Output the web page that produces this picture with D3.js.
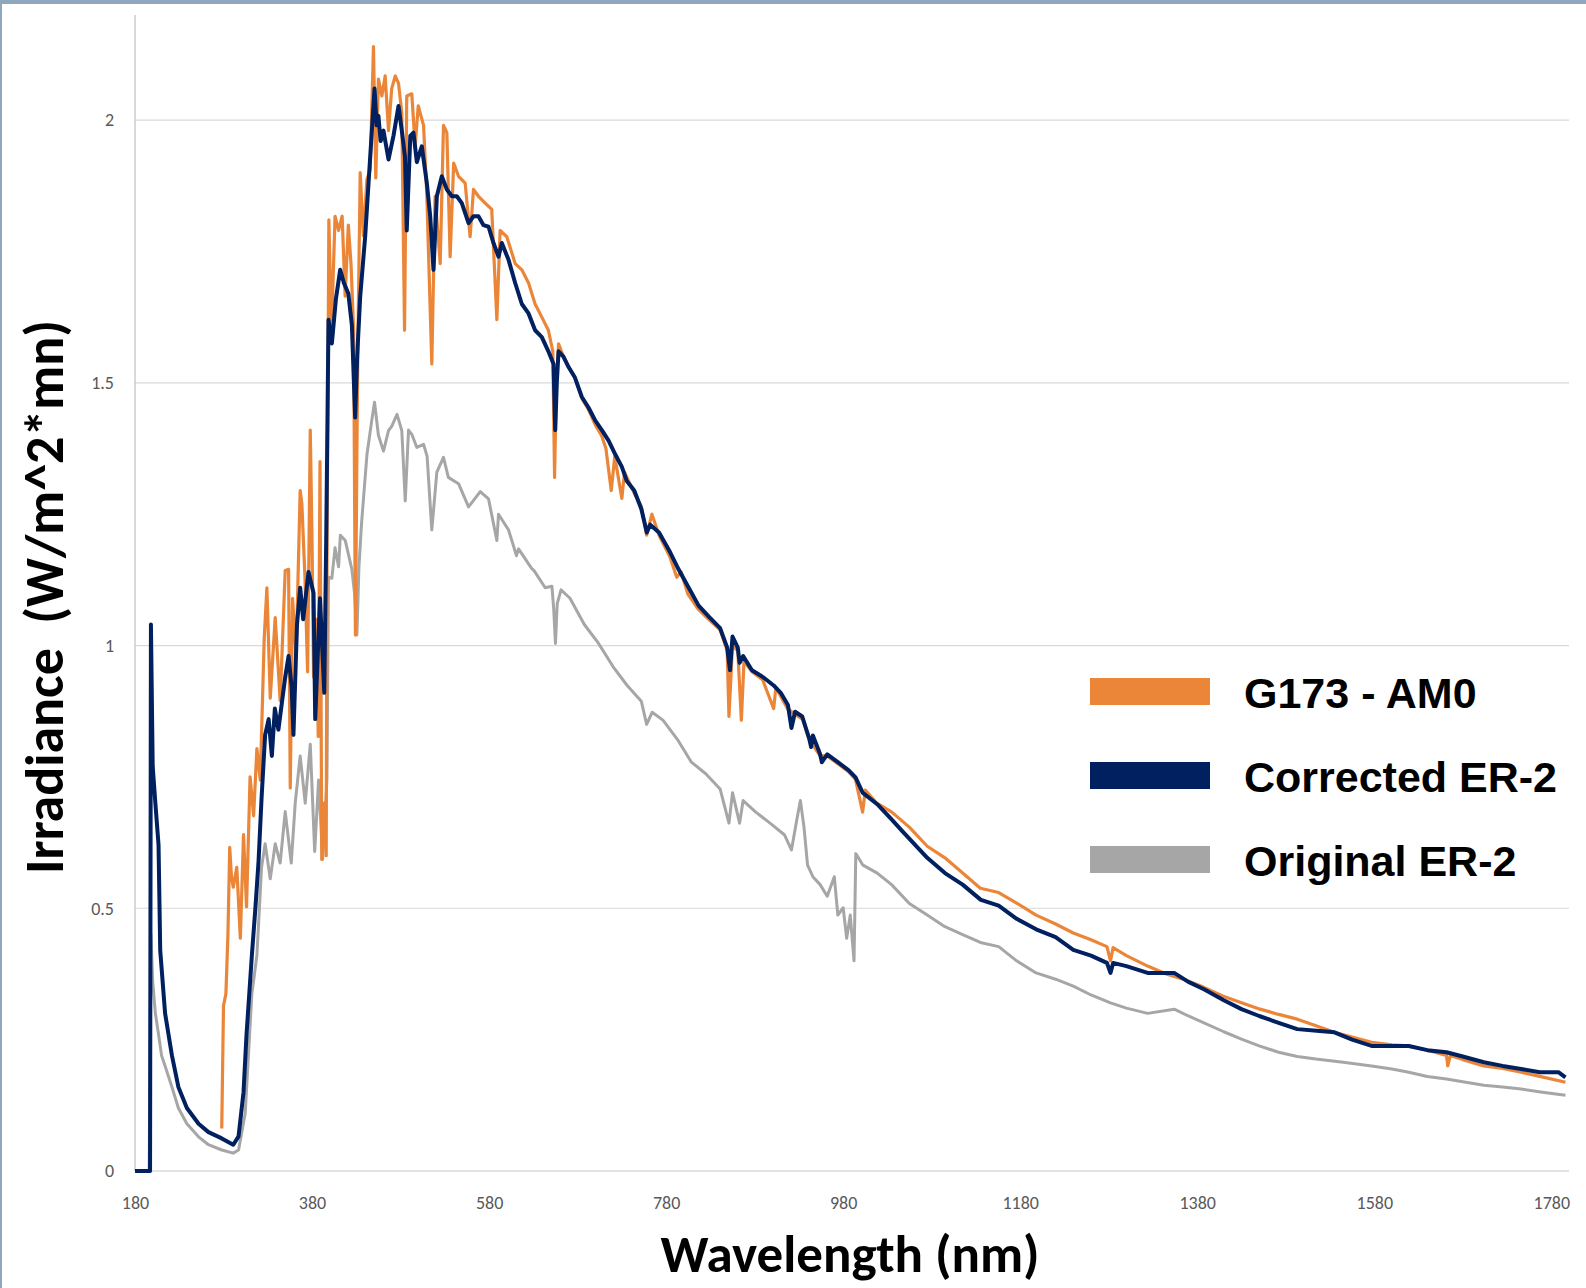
<!DOCTYPE html>
<html>
<head>
<meta charset="utf-8">
<script src="https://cdn.jsdelivr.net/npm/d3@7"></script>
<style>
  body { margin: 0; background: #fff; }
  .tick text { font-family: Carlito, Calibri, Lato, sans-serif; fill: #595959; }
</style>
</head>
<body>
<div id="chart"></div>
<script>

// series names + tick values
var seriesNames = ["G173 - AM0", "Corrected ER-2", "Original ER-2"];
var xTicks = [180, 380, 580, 780, 980, 1180, 1380, 1580, 1780];
var yTicks = [0, 0.5, 1, 1.5, 2];

// [wavelength nm, irradiance]
var g173 = [[278,0.081],[279,0.20],[280,0.315],[282.7,0.337],[285,0.45],[287,0.616],[289,0.56],[291,0.54],[295,0.578],[299,0.443],
  [302.6,0.64],[306,0.503],[310,0.75],[314,0.676],[317.7,0.804],[321.5,0.744],[326,1.015],[329,1.11],[332.8,0.90],[338.4,1.053],
  [344,0.895],[349.7,1.143],[353.5,1.145],[355.4,0.729],[358,1.09],[362,0.98],[366.6,1.295],[368.5,1.27],[372,1.13],[375,0.95],
  [378,1.41],[380,1.20],[381.7,0.94],[385,1.05],[387,0.827],[389,1.35],[391,0.593],[393,0.70],[396,0.60],[397,1.2],[399,1.81],
  [402,1.60],[406,1.817],[410,1.79],[414,1.817],[417.4,1.665],[421,1.80],[424,1.727],[427,1.60],[429,1.02],[431,1.43],[432,1.60],
  [434.4,1.90],[438,1.78],[442,1.887],[445.7,1.906],[449.4,2.14],[452,1.89],[455,2.078],[458.9,2.046],[462.6,2.084],[466.4,1.98],
  [470,2.06],[474,2.084],[477.7,2.07],[481.4,2.014],[484.5,1.60],[487,2.046],[492.7,2.05],[496.5,1.95],[500,2.027],[506,1.99],
  [509.7,1.855],[515.3,1.536],[519,1.855],[524.8,1.727],[528.5,1.99],[532.3,1.976],[536,1.74],[540,1.918],[545.5,1.893],[553,1.88],
  [558.6,1.778],[562.4,1.868],[568,1.855],[575.6,1.842],[583,1.83],[588.8,1.62],[592.5,1.79],[600,1.778],[609.5,1.727],[617,1.715],
  [624.6,1.69],[632,1.65],[639.6,1.625],[647,1.60],[652,1.56],[654,1.32],[656,1.50],[658.5,1.574],[664,1.55],[670,1.53],[677,1.51],
  [685,1.47],[692,1.45],[700,1.42],[707,1.40],[712,1.375],[718,1.295],[722,1.36],[730,1.28],[733,1.33],[744,1.29],[752,1.265],
  [758,1.21],[764,1.25],[772,1.21],[784,1.17],[792,1.13],[797,1.14],[804.6,1.098],[816,1.07],[828,1.05],[841,1.03],[849,0.99],
  [851,0.865],[855,1.0],[861,0.99],[865,0.858],[868,0.97],[877,0.95],[889,0.935],[901.5,0.88],[904,0.92],[917,0.88],[925,0.87],
  [934,0.86],[942,0.82],[954,0.79],[962,0.79],[974,0.775],[986,0.76],[994,0.745],[1002,0.683],[1005,0.725],[1018,0.70],[1035,0.683],
  [1055,0.654],[1075,0.618],[1095,0.596],[1115,0.567],[1135,0.538],[1155.7,0.53],[1176,0.51],[1198,0.487],[1220,0.47],[1240,0.453],
  [1260,0.44],[1278,0.427],[1282,0.40],[1285,0.425],[1300,0.41],[1324,0.39],[1345,0.375],[1366,0.364],[1387,0.35],[1408.7,0.333],
  [1430,0.32],[1451,0.308],[1472,0.298],[1493,0.289],[1515,0.276],[1535,0.264],[1555,0.255],[1577,0.245],[1600,0.24],[1619,0.238],
  [1640,0.23],[1661.6,0.22],[1663,0.20],[1666,0.22],[1680,0.212],[1703.8,0.20],[1725,0.195],[1746,0.188],[1767,0.18],[1796,0.169]];

var correctedEr2 = [[180,0],[197,0],[198,1.04],[200,0.77],[203,0.70],[206.6,0.62],[208.5,0.42],[214,0.30],[221.7,0.22],[229,0.16],
  [238.6,0.12],[251.8,0.09],[263,0.074],[278,0.062],[291,0.05],[297,0.066],[302.6,0.15],[306,0.26],[312,0.41],[316,0.50],
  [319.6,0.59],[323,0.71],[327,0.83],[331,0.86],[334.6,0.79],[338,0.88],[342,0.84],[349.7,0.94],[353.5,0.98],[357,0.92],[359,0.83],
  [363,1.04],[366.6,1.11],[370,1.05],[376,1.14],[381.7,1.10],[383.6,0.86],[389,1.09],[393.8,0.91],[396,1.20],[398.6,1.62],
  [402.4,1.575],[407,1.66],[411.8,1.715],[416,1.69],[421,1.67],[425,1.61],[428.7,1.434],[431,1.55],[434.4,1.664],[440,1.778],
  [445.7,1.93],[450.6,2.06],[453,1.99],[455,2.008],[457.5,1.96],[460.7,1.98],[466.4,1.925],[472,1.97],[477.7,2.027],[481.4,1.98],
  [485,1.93],[487,1.79],[491,1.97],[494.6,1.976],[498.4,1.92],[504,1.95],[509.7,1.88],[513.5,1.817],[517.2,1.715],[521,1.855],
  [526.6,1.893],[532.3,1.868],[538,1.855],[543.6,1.855],[549.2,1.842],[556.8,1.804],[562.4,1.817],[568,1.817],[573.7,1.80],
  [579.4,1.797],[585,1.766],[590.7,1.74],[594.4,1.766],[602,1.734],[609.5,1.69],[617,1.65],[624.6,1.632],[632,1.60],[639.6,1.587],
  [647,1.56],[652.8,1.536],[654.7,1.41],[656.5,1.50],[658.5,1.56],[664,1.55],[669.8,1.53],[677,1.51],[684.8,1.473],[692.3,1.453],
  [700,1.428],[707.4,1.41],[715,1.39],[722.5,1.364],[730,1.34],[735.6,1.313],[744,1.295],[752,1.26],[758.2,1.215],[762,1.23],
  [772,1.215],[784.4,1.178],[792.5,1.15],[804.6,1.113],[816.7,1.076],[828.8,1.054],[841,1.033],[849,0.996],[852.2,0.953],[855,1.017],
  [861,0.996],[863,0.967],[867,0.98],[877,0.953],[889.4,0.94],[901.5,0.924],[909.5,0.91],[917.6,0.887],[921.6,0.843],[925.7,0.874],
  [933.8,0.865],[941.8,0.822],[943.8,0.807],[945.8,0.829],[954,0.793],[956,0.778],[962,0.793],[974,0.778],[986,0.763],[994,0.749],
  [1002,0.72],[1018.5,0.698],[1034.7,0.669],[1046.8,0.647],[1075,0.596],[1095,0.567],[1115,0.545],[1135.6,0.516],[1155.7,0.505],
  [1176,0.48],[1198,0.46],[1220,0.445],[1240,0.421],[1260,0.41],[1278,0.396],[1282,0.377],[1285,0.396],[1300,0.39],[1324,0.377],
  [1354,0.377],[1370,0.36],[1387.6,0.346],[1410,0.325],[1430,0.308],[1450,0.295],[1472,0.282],[1493,0.27],[1515,0.267],[1535,0.264],
  [1555,0.25],[1577,0.238],[1600,0.238],[1619,0.238],[1640,0.23],[1661.6,0.226],[1680,0.218],[1703.8,0.207],[1725,0.2],[1746,0.194],
  [1767,0.188],[1788,0.188],[1796,0.178]];

var originalEr2 = [[180,0],[196,0],[198,0.45],[200,0.36],[203,0.30],[206.6,0.26],[210,0.22],[214,0.20],[221.7,0.16],[229,0.12],
  [238.6,0.09],[251.8,0.065],[263,0.05],[278,0.04],[291,0.034],[297,0.04],[304.5,0.11],[312,0.337],[317.7,0.41],[323,0.578],
  [327,0.623],[332.8,0.556],[338.4,0.623],[344,0.586],[349.7,0.684],[356.5,0.586],[361,0.70],[366.6,0.79],[372.3,0.70],[378,0.812],
  [383,0.608],[387.4,0.744],[392,0.593],[396.8,0.744],[398.6,1.13],[402.4,1.128],[406,1.186],[410,1.15],[412,1.21],[417.5,1.20],
  [425,1.145],[428,1.10],[430.7,1.02],[433,1.15],[436,1.234],[442,1.363],[447.6,1.43],[450.6,1.463],[455,1.40],[460.7,1.37],
  [466.4,1.409],[470,1.417],[476,1.44],[481.4,1.409],[485.3,1.275],[489,1.41],[492.7,1.402],[498.4,1.377],[506,1.383],[510,1.36],
  [515.3,1.22],[521,1.33],[528.5,1.358],[534,1.32],[545.5,1.308],[556.8,1.264],[570,1.293],[579.4,1.279],[588.8,1.20],[590.7,1.25],
  [602,1.22],[611,1.171],[613.3,1.184],[628,1.147],[631,1.142],[643.4,1.11],[651,1.113],[653,1.07],[655,1.004],[657,1.08],
  [661.3,1.106],[671.4,1.09],[687.6,1.04],[703.7,1.004],[720,0.96],[736,0.924],[752,0.894],[758,0.85],[764.2,0.873],[776.4,0.858],
  [792.5,0.822],[808.6,0.778],[824.8,0.756],[841,0.727],[851,0.662],[855,0.72],[863,0.662],[867,0.705],[881.3,0.683],[897.4,0.662],
  [913.6,0.64],[921.6,0.611],[927.7,0.669],[931.7,0.705],[935.8,0.654],[939.8,0.582],[945.8,0.56],[954,0.545],[962,0.523],[970,0.56],
  [974,0.487],[980,0.501],[984,0.443],[988,0.487],[992.3,0.40],[994.3,0.604],[1002.4,0.582],[1018.5,0.567],[1034.7,0.545],
  [1054.8,0.509],[1075,0.487],[1095,0.465],[1115,0.45],[1135,0.435],[1155.7,0.427],[1176,0.40],[1198,0.377],[1220,0.365],
  [1240,0.352],[1260,0.335],[1282,0.32],[1300,0.31],[1324,0.30],[1354,0.308],[1370,0.295],[1387.6,0.282],[1410,0.265],[1430,0.251],
  [1450,0.238],[1472,0.226],[1493,0.218],[1514,0.213],[1545,0.207],[1577,0.20],[1600,0.194],[1619,0.188],[1640,0.18],[1661.6,0.175],
  [1680,0.17],[1703.8,0.163],[1725,0.16],[1746,0.156],[1770,0.15],[1796,0.144]];

var colors = { "G173 - AM0": "#eb8638", "Corrected ER-2": "#002060", "Original ER-2": "#a6a6a6" };
var widths = { "G173 - AM0": 3.2, "Corrected ER-2": 4, "Original ER-2": 3 };

var svgWidth = 1586;
var svgHeight = 1288;

var margin = { top: 15, right: 17, bottom: 117, left: 135 };

var width = svgWidth - margin.left - margin.right;
var height = svgHeight - margin.top - margin.bottom;

var svg = d3.select("#chart")
  .append("svg")
  .attr("width", svgWidth)
  .attr("height", svgHeight)
  .style("display", "block");

// frame strips at top and left
svg.append("rect").attr("x", 0).attr("y", 0).attr("width", svgWidth).attr("height", 4).attr("fill", "#8ea7bf");
svg.append("rect").attr("x", 0).attr("y", 0).attr("width", 2).attr("height", svgHeight).attr("fill", "#8ea7bf");

var chartGroup = svg.append("g")
  .attr("transform", `translate(${margin.left}, ${margin.top})`);

// scales
var xScale = d3.scaleLinear()
  .domain([180, 1800])
  .range([0, width]);

var yScale = d3.scaleLinear()
  .domain([0, 2.2])
  .range([height, 0]);

// gridlines
chartGroup.append("g")
  .selectAll("line")
  .data(yTicks)
  .enter()
  .append("line")
  .attr("x1", 0)
  .attr("x2", width)
  .attr("y1", d => yScale(d))
  .attr("y2", d => yScale(d))
  .attr("stroke", d => d === 0 ? "#c8c8c8" : "#d9d9d9")
  .attr("stroke-width", 1.2);

// vertical axis line
chartGroup.append("line")
  .attr("x1", 0).attr("x2", 0)
  .attr("y1", 0).attr("y2", height)
  .attr("stroke", "#bfbfbf")
  .attr("stroke-width", 1.2);

// axes (labels only)
var bottomAxis = d3.axisBottom(xScale).tickValues(xTicks).tickSize(0).tickPadding(25).tickFormat(d3.format("d"));
var leftAxis = d3.axisLeft(yScale).tickValues(yTicks).tickSize(0).tickPadding(21).tickFormat(d3.format("~g"));

var xAxisG = chartGroup.append("g")
  .attr("transform", `translate(0, ${height})`)
  .call(bottomAxis);
xAxisG.select(".domain").remove();
xAxisG.selectAll("text").attr("font-size", "18px");

var yAxisG = chartGroup.append("g")
  .call(leftAxis);
yAxisG.select(".domain").remove();
yAxisG.selectAll("text").attr("font-size", "18px");

// lines
var line = d3.line()
  .x(d => xScale(d[0]))
  .y(d => yScale(d[1]));

var drawOrder = [
  { name: "Original ER-2", values: originalEr2 },
  { name: "G173 - AM0", values: g173 },
  { name: "Corrected ER-2", values: correctedEr2 }
];

chartGroup.selectAll(".series")
  .data(drawOrder)
  .enter()
  .append("path")
  .attr("class", "series")
  .attr("d", d => line(d.values))
  .attr("fill", "none")
  .attr("stroke", d => colors[d.name])
  .attr("stroke-width", d => widths[d.name])
  .attr("stroke-linejoin", "round");

// legend
var legend = svg.append("g")
  .attr("transform", "translate(1090, 678)");

var legendRows = legend.selectAll("g")
  .data(seriesNames)
  .enter()
  .append("g")
  .attr("transform", (d, i) => `translate(0, ${i * 84})`);

legendRows.append("rect")
  .attr("width", 120)
  .attr("height", 27)
  .attr("fill", d => colors[d]);

legendRows.append("text")
  .attr("x", 154)
  .attr("y", 30)
  .attr("font-family", "'Liberation Sans', Arial, sans-serif")
  .attr("font-weight", "bold")
  .attr("font-size", "43px")
  .attr("fill", "#000")
  .text(d => d);

// axis titles
svg.append("text")
  .attr("transform", "translate(63, 597) rotate(-90)")
  .attr("text-anchor", "middle")
  .attr("font-family", "Carlito, Calibri, Lato, sans-serif")
  .attr("font-weight", "bold")
  .attr("font-size", "54px")
  .attr("fill", "#000")
  .style("white-space", "pre")
  .text("Irradiance  (W/m^2*mn)");

svg.append("text")
  .attr("x", 850)
  .attr("y", 1272)
  .attr("text-anchor", "middle")
  .attr("font-family", "Carlito, Calibri, Lato, sans-serif")
  .attr("font-weight", "bold")
  .attr("font-size", "53px")
  .attr("fill", "#000")
  .text("Wavelength (nm)");

</script>
</body>
</html>
